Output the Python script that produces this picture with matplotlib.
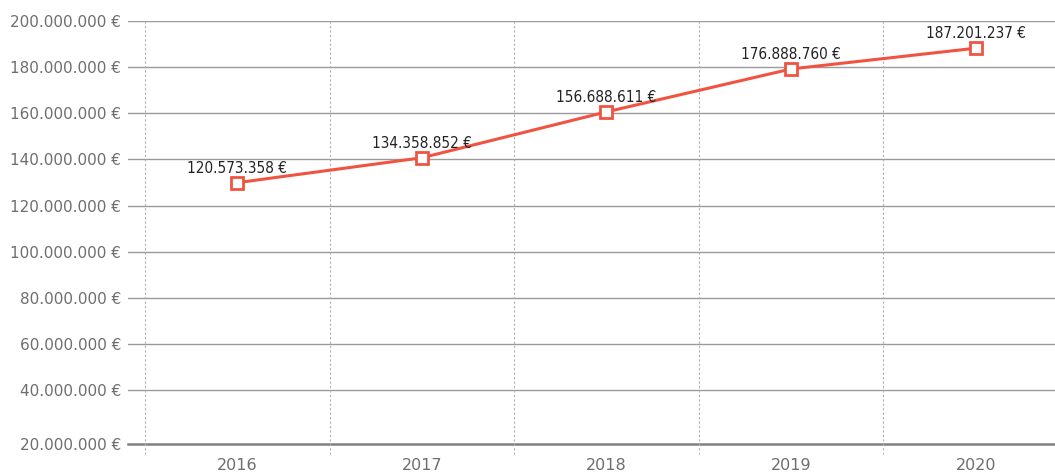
import numpy as np
import matplotlib.pyplot as plt

years = ['2016', '2017', '2018', '2019', '2020']
values = [129.9e6, 140.7e6, 160.6e6, 179.2e6, 188.2e6]
value_labels = ['120.573.358 €', '134.358.852 €', '156.688.611 €', '176.888.760 €', '187.201.237 €']
y_ticks = [40e6, 60e6, 80e6, 100e6, 120e6, 140e6, 160e6, 180e6, 200e6]

y_bottom = 16.6e6
red = '#f05440'

fig = plt.figure(figsize=(10.55, 4.74), dpi=100)
ax = fig.add_axes([128 / 1055, 30 / 474, 1 - 128 / 1055, (444 - 21) / 474])

x = np.arange(len(years))
ax.set_xlim(-0.592, 4.43)
ax.set_ylim(y_bottom, 200e6)

# horizontal grid
for t in y_ticks:
    ax.axhline(t, color='#9a9a9a', lw=1.0, zorder=1)
ax.axhline(y_bottom, color='#808080', lw=1.8, zorder=1, clip_on=False)

# dashed category separators
for b in np.arange(-0.5, len(years) - 1, 1.0):
    ax.plot([b, b], [200e6, y_bottom - 4.5e6], color='#b0b0b0', lw=0.8,
            ls=(0, (2, 2)), clip_on=False, zorder=1)

ax.plot(x, values, color=red, lw=2.2, marker='s', ms=8, mfc='white',
        mec=red, mew=2, zorder=3)

for xi, v, lab in zip(x, values, value_labels):
    ax.annotate(lab, (xi, v), xytext=(0, 5), textcoords='offset points',
                ha='center', va='bottom', fontsize=11, color='#222222',
                family='DejaVu Sans', fontstretch='condensed')

for s in ax.spines.values():
    s.set_visible(False)

ax.set_yticks([y_bottom] + y_ticks)
ax.set_yticklabels(['20.000.000 €'] + ['{:,.0f} €'.format(t).replace(',', '.') for t in y_ticks])
ax.set_xticks(x)
ax.set_xticklabels(years)
ax.tick_params(axis='y', length=0, pad=5, labelsize=11, labelcolor='#6e6e6e')
ax.tick_params(axis='x', length=0, pad=10, labelsize=11.5, labelcolor='#6e6e6e')

fig.savefig('out.png', dpi=100)
